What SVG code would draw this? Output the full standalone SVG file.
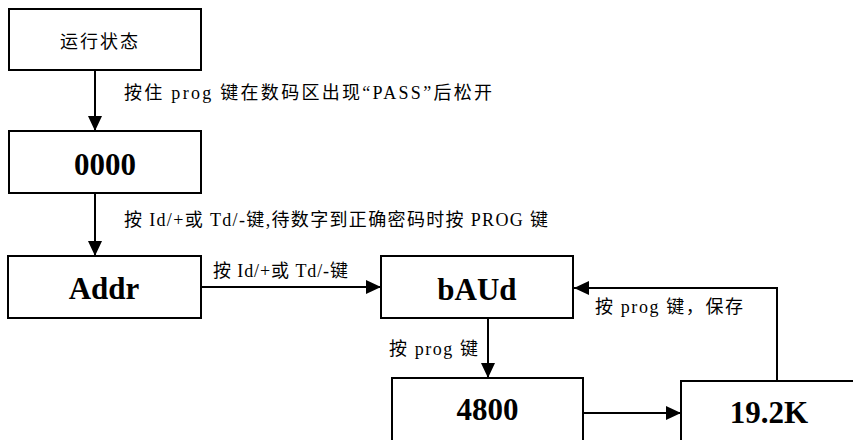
<svg xmlns="http://www.w3.org/2000/svg" width="853" height="440" viewBox="0 0 853 440">
<style>
.box{fill:#fff;stroke:#000;stroke-width:2}
.ln{fill:none;stroke:#000;stroke-width:2}
.lbl{font-family:"Liberation Serif","Noto Sans CJK SC",serif;font-size:18px;fill:#000}
.big{font-family:"Liberation Serif","Noto Sans CJK SC",serif;font-size:31px;font-weight:bold;fill:#000;text-anchor:middle}
</style>
<defs>
<marker id="ah" markerUnits="userSpaceOnUse" markerWidth="16" markerHeight="14" refX="15" refY="7" orient="auto">
<path d="M0,0 L15,7 L0,14 Z" fill="#000"/>
</marker>
</defs>
<rect width="853" height="440" fill="#fff"/>
<g id="connectors">
<line class="ln" x1="95" y1="70" x2="95" y2="131" marker-end="url(#ah)"/>
<line class="ln" x1="95" y1="193" x2="95" y2="256" marker-end="url(#ah)"/>
<line class="ln" x1="201" y1="287" x2="381" y2="287" marker-end="url(#ah)"/>
<line class="ln" x1="488" y1="318" x2="488" y2="378" marker-end="url(#ah)"/>
<line class="ln" x1="583" y1="413" x2="681" y2="413" marker-end="url(#ah)"/>
<polyline class="ln" points="777,381 777,288 574,288" marker-end="url(#ah)"/>
<text class="lbl" x="124" y="99" textLength="368" lengthAdjust="spacing">按住 prog  键在数码区出现“PASS”后松开</text>
<text class="lbl" x="124" y="226" textLength="424" lengthAdjust="spacing">按 Id/+或 Td/-键,待数字到正确密码时按 PROG 键</text>
<text class="lbl" x="213" y="277" textLength="135" lengthAdjust="spacing">按 Id/+或 Td/-键</text>
<text class="lbl" x="389" y="355" textLength="89" lengthAdjust="spacing">按 prog  键</text>
<text class="lbl" x="595" y="313" textLength="148" lengthAdjust="spacing">按 prog  键，保存</text>
</g>
<g id="n1">
<rect class="box" x="9" y="9" width="192" height="61"/>
<text class="lbl" x="60" y="48" textLength="78" lengthAdjust="spacing">运行状态</text>
</g>
<g id="n2">
<rect class="box" x="9" y="131" width="192" height="62"/>
<text class="big" x="105" y="175">0000</text>
</g>
<g id="n3">
<rect class="box" x="8" y="256" width="193" height="62"/>
<text class="big" x="104" y="299">Addr</text>
</g>
<g id="n4">
<rect class="box" x="381" y="256" width="192" height="62"/>
<text class="big" x="477" y="300">bAUd</text>
</g>
<g id="n5">
<rect class="box" x="392" y="378" width="191" height="80"/>
<text class="big" x="487.5" y="420">4800</text>
</g>
<g id="n6">
<rect class="box" x="681" y="381" width="200" height="80"/>
<text class="big" x="769" y="423">19.2K</text>
</g>
</svg>
